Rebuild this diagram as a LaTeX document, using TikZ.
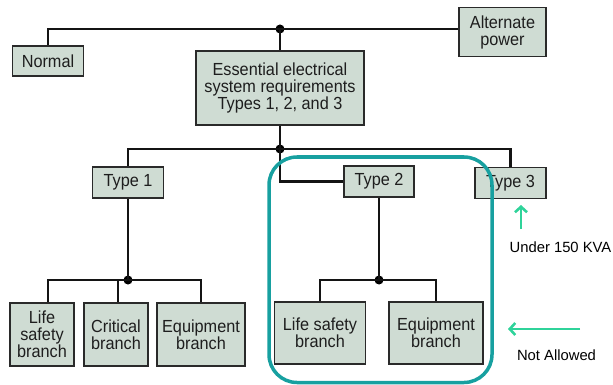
\documentclass[tikz,border=0pt]{standalone}
\usepackage{fontspec}
\setmainfont{Liberation Sans}
\newfontfamily\boxfont{Liberation Sans}[FakeStretch=0.93]
\usetikzlibrary{arrows.meta}
\definecolor{boxfill}{HTML}{CFDCD3}
\definecolor{boxline}{HTML}{2A2A2A}
\definecolor{tealc}{HTML}{17A0A0}
\definecolor{mint}{HTML}{2FD39A}
\definecolor{txt}{HTML}{1E1E1E}
\tikzset{
  box/.style={draw=boxline, fill=boxfill, line width=1.9pt, inner sep=0pt, align=center,
    text=txt, font=\boxfont\fontsize{17.5}{17}\selectfont},
  wire/.style={line width=2.8pt, draw=black!92},
  jdot/.style={circle, fill=black, inner sep=0pt, minimum size=9pt},
  note/.style={font=\fontsize{14.8}{16}\selectfont, text=black, inner sep=0pt},
  hint/.style={draw=mint, line width=2.6pt, -{Straight Barb[length=5.5pt,width=12pt,line width=2.6pt]}}
}
\begin{document}
\begin{tikzpicture}[x=1pt,y=-1pt]
\useasboundingbox (0,0) rectangle (613,385);
% boxes
\node[box, minimum width=71pt, minimum height=30pt] (normal) at (48,61) {Normal};
\node[box, minimum width=87pt, minimum height=49pt] (alt) at (502.5,32) {Alternate\\power};
\node[box, minimum width=168pt, minimum height=74pt] (ess) at (280,88) {Essential electrical\\system requirements\\Types 1, 2, and 3};
\node[box, minimum width=71pt, minimum height=31pt] (t1) at (128,182.5) {Type 1};
\node[box, minimum width=70pt, minimum height=31pt] (t2) at (379,181.5) {Type 2};
\node[box, minimum width=71pt, minimum height=31pt] (t3) at (510.5,183) {Type 3};
\node[box, minimum width=64.5pt, minimum height=63pt] (ls1) at (42,334.5) {Life\\safety\\branch};
\node[box, minimum width=64pt, minimum height=63pt] (cr1) at (116,334.5) {Critical\\branch};
\node[box, minimum width=88.5pt, minimum height=63pt] (eq1) at (201,334.5) {Equipment\\branch};
\node[box, minimum width=91pt, minimum height=62pt] (ls2) at (320,333) {Life safety\\branch};
\node[box, minimum width=94pt, minimum height=62pt] (eq2) at (436,333) {Equipment\\branch};
% junctions
\node[jdot] (j0) at (280,29) {};
\node[jdot] (j1) at (280,149) {};
\node[jdot] (j2) at (128,280) {};
\node[jdot] (j3) at (379,280) {};
% wires
\draw[wire] (normal.north) |- (j0.center) -- (j0.center -| alt.west);
\draw[wire] (j0.center) -- (ess.north);
\draw[wire] (ess.south) -- (j1.center);
\draw[wire] (t1.north) |- (j1.center) -| (t3.north);
\draw[wire] (j1.center) |- (t2.west);
\draw[wire] (t1.south) -- (j2.center);
\draw[wire] (48,0 |- ls1.north) |- (j2.center) -| (eq1.north);
\draw[wire] (j2.center) -| (118,0 |- cr1.north);
\draw[wire] (t2.south) -- (j3.center);
\draw[wire] (ls2.north) |- (j3.center) -| (eq2.north);
% teal outline
\draw[tealc, line width=3.5pt, rounded corners=28pt] (269,157) rectangle (492,382.5);
% notes
\coordinate (a1s) at (521,229);
\coordinate (a1e) at (521,205);
\draw[hint] (a1s) -- (a1e);
\node[note] (n1) at (560.5,247) {Under 150 KVA};
\coordinate (a2s) at (580,329);
\coordinate (a2e) at (508,329);
\draw[hint] (a2s) -- (a2e);
\node[note] (n2) at (556.5,355) {Not Allowed};
\end{tikzpicture}
\end{document}
